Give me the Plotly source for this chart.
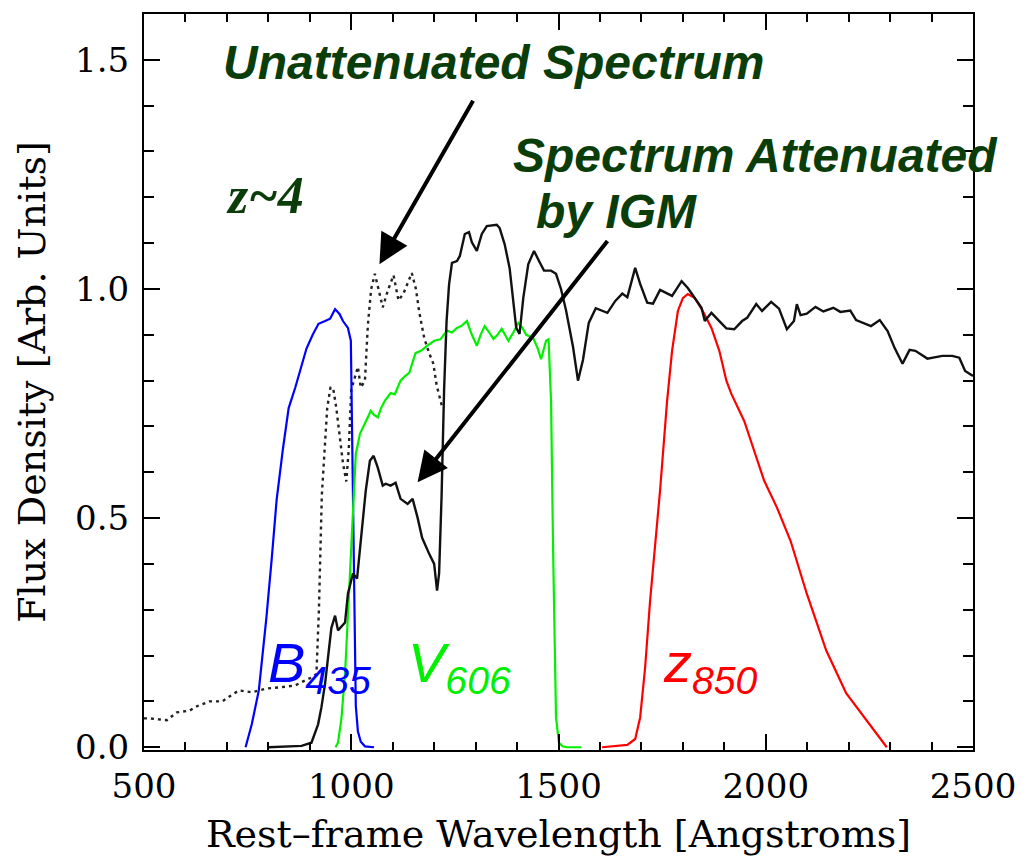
import plotly.graph_objects as go

# Unattenuated z~4 galaxy template (wavelength [A], flux density)
UNATTENUATED = [
    (500, 0.063), (514, 0.063), (555, 0.059), (579, 0.076), (610, 0.080), (629, 0.090),
    (658, 0.100), (689, 0.100), (710, 0.113), (729, 0.124), (760, 0.120), (794, 0.128),
    (832, 0.131), (865, 0.135), (889, 0.146), (904, 0.152), (916, 0.160), (922, 0.300),
    (929, 0.550), (935, 0.650), (942, 0.740), (950, 0.786), (957, 0.780), (964, 0.740),
    (972, 0.680), (980, 0.620), (988, 0.580), (994, 0.650), (1000, 0.780), (1006, 0.800),
    (1016, 0.830), (1023, 0.785), (1033, 0.800), (1040, 0.920), (1048, 1.000), (1057, 1.033),
    (1066, 1.000), (1076, 0.960), (1088, 0.996), (1102, 1.030), (1114, 0.975), (1126, 0.990),
    (1146, 1.035), (1156, 1.000), (1164, 0.950), (1176, 0.893), (1188, 0.860), (1198, 0.837),
    (1206, 0.790), (1214, 0.763), (1220, 0.740),
]

# Same template after intergalactic-medium absorption
ATTENUATED = [
    (800, 0.000), (880, 0.003), (904, 0.010), (920, 0.050), (928, 0.087), (937, 0.140),
    (952, 0.260), (961, 0.287), (968, 0.255), (985, 0.272), (992, 0.335), (1004, 0.379),
    (1014, 0.368), (1023, 0.450), (1035, 0.560), (1045, 0.625), (1054, 0.636), (1064, 0.610),
    (1076, 0.571), (1083, 0.575), (1095, 0.571), (1107, 0.577), (1119, 0.542), (1136, 0.531),
    (1148, 0.542), (1160, 0.501), (1171, 0.457), (1188, 0.422), (1200, 0.400), (1207, 0.342),
    (1212, 0.380), (1218, 0.550), (1224, 0.780), (1230, 0.930), (1236, 1.010), (1243, 1.057),
    (1255, 1.061), (1262, 1.072), (1274, 1.120), (1284, 1.124), (1291, 1.102), (1303, 1.083),
    (1315, 1.120), (1327, 1.137), (1351, 1.140), (1358, 1.133), (1370, 1.098), (1382, 1.046),
    (1391, 0.974), (1398, 0.915), (1406, 0.902), (1415, 0.980), (1427, 1.054), (1441, 1.083),
    (1453, 1.061), (1465, 1.040), (1482, 1.040), (1494, 1.033), (1506, 1.000), (1518, 0.954),
    (1535, 0.874), (1547, 0.800), (1559, 0.845), (1573, 0.926), (1590, 0.958), (1618, 0.948),
    (1637, 0.974), (1654, 0.990), (1666, 0.982), (1685, 1.046), (1697, 1.011), (1714, 0.970),
    (1728, 0.968), (1745, 0.998), (1774, 0.985), (1797, 1.017), (1812, 1.002), (1829, 0.980),
    (1845, 0.959), (1853, 0.930), (1869, 0.948), (1888, 0.930), (1905, 0.914), (1924, 0.912),
    (1943, 0.930), (1955, 0.937), (1977, 0.967), (1991, 0.952), (2013, 0.972), (2032, 0.957),
    (2051, 0.912), (2068, 0.930), (2075, 0.967), (2084, 0.943), (2099, 0.946), (2120, 0.961),
    (2139, 0.951), (2163, 0.959), (2180, 0.950), (2204, 0.953), (2218, 0.932), (2254, 0.919),
    (2275, 0.932), (2294, 0.908), (2311, 0.871), (2330, 0.837), (2347, 0.867), (2361, 0.865),
    (2390, 0.848), (2426, 0.854), (2450, 0.854), (2467, 0.850), (2481, 0.821), (2500, 0.810),
]

# ACS filter throughput curves, normalised
B435 = [
    (745, 0.000), (760, 0.050), (777, 0.124), (795, 0.280), (808, 0.410), (820, 0.540),
    (835, 0.650), (849, 0.740), (865, 0.785), (880, 0.830), (892, 0.870), (907, 0.900),
    (921, 0.924), (937, 0.930), (949, 0.935), (961, 0.956), (972, 0.945), (980, 0.930),
    (992, 0.915), (999, 0.887), (1002, 0.700), (1005, 0.500), (1008, 0.300), (1011, 0.090),
    (1016, 0.035), (1023, 0.012), (1033, 0.002), (1055, 0.000),
]

V606 = [
    (962, 0.000), (968, 0.010), (976, 0.060), (985, 0.160), (997, 0.380), (1004, 0.520),
    (1011, 0.640), (1021, 0.684), (1030, 0.700), (1040, 0.720), (1047, 0.734), (1055, 0.725),
    (1064, 0.720), (1072, 0.740), (1081, 0.756), (1095, 0.773), (1105, 0.770), (1119, 0.800),
    (1130, 0.810), (1140, 0.817), (1155, 0.860), (1168, 0.865), (1183, 0.876), (1200, 0.887),
    (1215, 0.890), (1231, 0.909), (1243, 0.905), (1255, 0.915), (1267, 0.920), (1279, 0.930),
    (1291, 0.900), (1303, 0.876), (1312, 0.900), (1322, 0.919), (1333, 0.905), (1343, 0.891),
    (1353, 0.900), (1363, 0.913), (1371, 0.900), (1379, 0.887), (1391, 0.905), (1403, 0.926),
    (1413, 0.915), (1422, 0.900), (1439, 0.893), (1450, 0.870), (1458, 0.847), (1464, 0.870),
    (1470, 0.887), (1476, 0.890), (1482, 0.756), (1487, 0.430), (1494, 0.065), (1501, 0.010),
    (1510, 0.002), (1520, 0.000), (1555, 0.000),
]

Z850 = [
    (1605, 0.000), (1640, 0.002), (1666, 0.005), (1685, 0.018), (1697, 0.065), (1709, 0.174),
    (1721, 0.320), (1733, 0.440), (1745, 0.560), (1762, 0.756), (1774, 0.865), (1788, 0.952),
    (1800, 0.980), (1812, 0.989), (1829, 0.980), (1848, 0.952), (1869, 0.915), (1888, 0.865),
    (1905, 0.800), (1917, 0.771), (1948, 0.712), (1972, 0.647), (1996, 0.582), (2027, 0.523),
    (2060, 0.450), (2099, 0.335), (2146, 0.211), (2194, 0.118), (2242, 0.059), (2292, 0.000),
]

X_TICKS = [500, 1000, 1500, 2000, 2500]
Y_TICKS = [0.0, 0.5, 1.0, 1.5]

LABEL_GREEN = "#0a3d0a"
SERIF = "DejaVu Serif"
SANS = "Liberation Sans, Arial, sans-serif"


def unzip(pairs):
    return [p[0] for p in pairs], [p[1] for p in pairs]


fig = go.Figure()

curves = [
    (UNATTENUATED, "#222222", "3px,4px", 2.4),
    (B435, "#0000ff", "solid", 2.2),
    (V606, "#00f000", "solid", 2.2),
    (Z850, "#ff0000", "solid", 2.2),
    (ATTENUATED, "#111111", "solid", 2.4),
]
for pairs, color, dash, width in curves:
    xs, ys = unzip(pairs)
    fig.add_trace(go.Scatter(x=xs, y=ys, mode="lines",
                             line=dict(color=color, dash=dash, width=width),
                             showlegend=False, hoverinfo="skip"))

annotations = [
    dict(x=1343, y=1.494, text="<b><i>Unattenuated Spectrum</i></b>",
         font=dict(family=SANS, size=48, color=LABEL_GREEN)),
    dict(x=1975, y=1.292, text="<b><i>Spectrum Attenuated</i></b>",
         font=dict(family=SANS, size=48, color=LABEL_GREEN)),
    dict(x=1640, y=1.168, text="<b><i>by IGM</i></b>",
         font=dict(family=SANS, size=48, color=LABEL_GREEN)),
    dict(x=793, y=1.205, text="<b><i>z~4</i></b>",
         font=dict(family="Liberation Serif, Times New Roman, serif", size=52, color=LABEL_GREEN)),
    dict(x=923, y=0.176, text="<i>B<sub>435</sub></i>",
         font=dict(family=SANS, size=56, color="#0000ff")),
    dict(x=1260, y=0.176, text="<i>V<sub>606</sub></i>",
         font=dict(family=SANS, size=56, color="#00f000")),
    dict(x=1867, y=0.176, text="<i>z<sub>850</sub></i>",
         font=dict(family=SANS, size=56, color="#ff0000")),
]
for a in annotations:
    fig.add_annotation(xref="x", yref="y", showarrow=False, **a)

# Arrows pointing from the labels to the two spectra
arrows = [((1068, 1.054), (1296, 1.414)), ((1160, 0.578), (1621, 1.108))]
for (hx, hy), (tx, ty) in arrows:
    fig.add_annotation(x=hx, y=hy, ax=tx, ay=ty, xref="x", yref="y",
                       axref="x", ayref="y", text="", showarrow=True,
                       arrowhead=2, arrowsize=1.5, arrowwidth=4,
                       arrowcolor="#000000", standoff=0)

axis_common = dict(
    showline=True, linecolor="#000000", linewidth=2, mirror="allticks",
    ticks="inside", ticklen=16, tickwidth=2, tickcolor="#000000",
    showgrid=False, zeroline=False,
    tickfont=dict(family=SERIF, size=34, color="#000000"),
    title_font=dict(family=SERIF, size=38, color="#000000"),
)

fig.update_xaxes(range=[500, 2500], tickvals=X_TICKS,
                 ticktext=[str(v) for v in X_TICKS],
                 minor=dict(ticks="inside", dtick=100, ticklen=8, tickwidth=2,
                            tickcolor="#000000"),
                 ticklabelstandoff=5,
                 title_text="Rest\u2013frame Wavelength [Angstroms]",
                 title_standoff=16, **axis_common)
fig.update_yaxes(range=[-0.006, 1.6], tickvals=Y_TICKS,
                 ticktext=[f"{v:.1f}" for v in Y_TICKS],
                 minor=dict(ticks="inside", dtick=0.1, ticklen=10, tickwidth=2,
                            tickcolor="#000000"),
                 ticklabelstandoff=6,
                 title_text="Flux Density [Arb. Units]",
                 title_standoff=18, **axis_common)

fig.update_layout(
    width=1028, height=863,
    margin=dict(l=144, r=47, t=12, b=113),
    plot_bgcolor="#ffffff", paper_bgcolor="#ffffff",
)

fig.write_html("out.html")
